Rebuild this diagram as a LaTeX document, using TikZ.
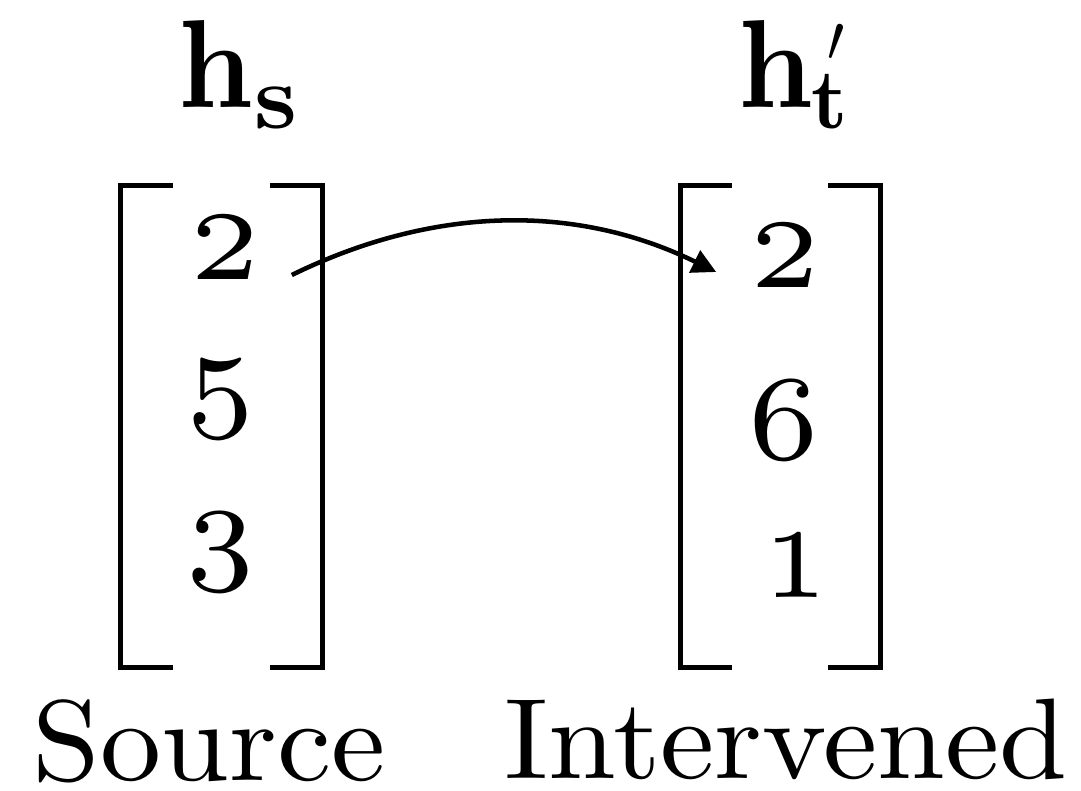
\documentclass[tikz,border=0pt]{standalone}
\usetikzlibrary{arrows.meta}
\newdimen\px \px=0.75pt
% small optical sizes enlarged, for heavy strokes
\newcommand\smallfive{\fontsize{5pt}{6pt}\selectfont}
\newcommand\smallseven{\fontsize{7pt}{8pt}\selectfont}
\tikzset{
  x=0.75pt, y=0.75pt,
  entry/.style={inner sep=0pt, anchor=base},
  caption/.style={inner sep=0pt, anchor=base, font=\fontsize{10pt}{12pt}\selectfont},
  head/.style={inner sep=0pt, anchor=base west, font=\bfseries},
  bracket/.style={line width=3.75pt},
  link/.style={line width=3.4pt, -{Triangle[length=18pt,width=18pt]}}
}
\begin{document}
\begin{tikzpicture}
\useasboundingbox (0,0) rectangle (1081,790);
% vector names
\node[head] (hs) at (178,682)
  {\scalebox{8.8}[9.4]{h}\kern1\px\raisebox{-21\px}{\scalebox{7.1}[6.9]{s}}};
\node[head] (ht) at (738,682)
  {\scalebox{8.8}[9.4]{h}\kern14\px\rlap{\raisebox{46\px}{\scalebox{4.6}[5]{$\prime$}}}\kern-16\px\raisebox{-21\px}{\scalebox{6.1}[6.4]{t}}};
% source vector entries
\node[entry] (s1) at (225,510) {\scalebox{16.1}[14.7]{\smallfive 2}};
\node[entry] (s2) at (220.5,351) {\scalebox{12.8}[13]{\smallseven 5}};
\node[entry] (s3) at (220.5,198) {\scalebox{12.8}[13]{\smallseven 3}};
% intervened vector entries
\node[entry] (t1) at (785,502) {\scalebox{16.1}[14.7]{\smallfive 2}};
\node[entry] (t2) at (784,330) {\scalebox{13.3}[13]{\smallseven 6}};
\node[entry] (t3) at (796,192) {\scalebox{15}[14.7]{\smallfive 1}};
% brackets
\draw[bracket] (173,604) -- (120,604) -- (120,123) -- (173,123);
\draw[bracket] (270,604) -- (322,604) -- (322,123) -- (270,123);
\draw[bracket] (732,604) -- (680,604) -- (680,123) -- (732,123);
\draw[bracket] (828,604) -- (880,604) -- (880,123) -- (828,123);
% copied entry
\draw[link] ([shift={(30,5)}]s1.base east) .. controls +(141,69) and +(-141,69) .. ([shift={(-32,16)}]t1.base west);
% captions
\node[caption] (src) at (209,10) {\scalebox{9.15}[8.6]{Source}};
\node[caption] (int) at (786,12) {\scalebox{9.15}[8.6]{Intervened}};
\end{tikzpicture}
\end{document}
